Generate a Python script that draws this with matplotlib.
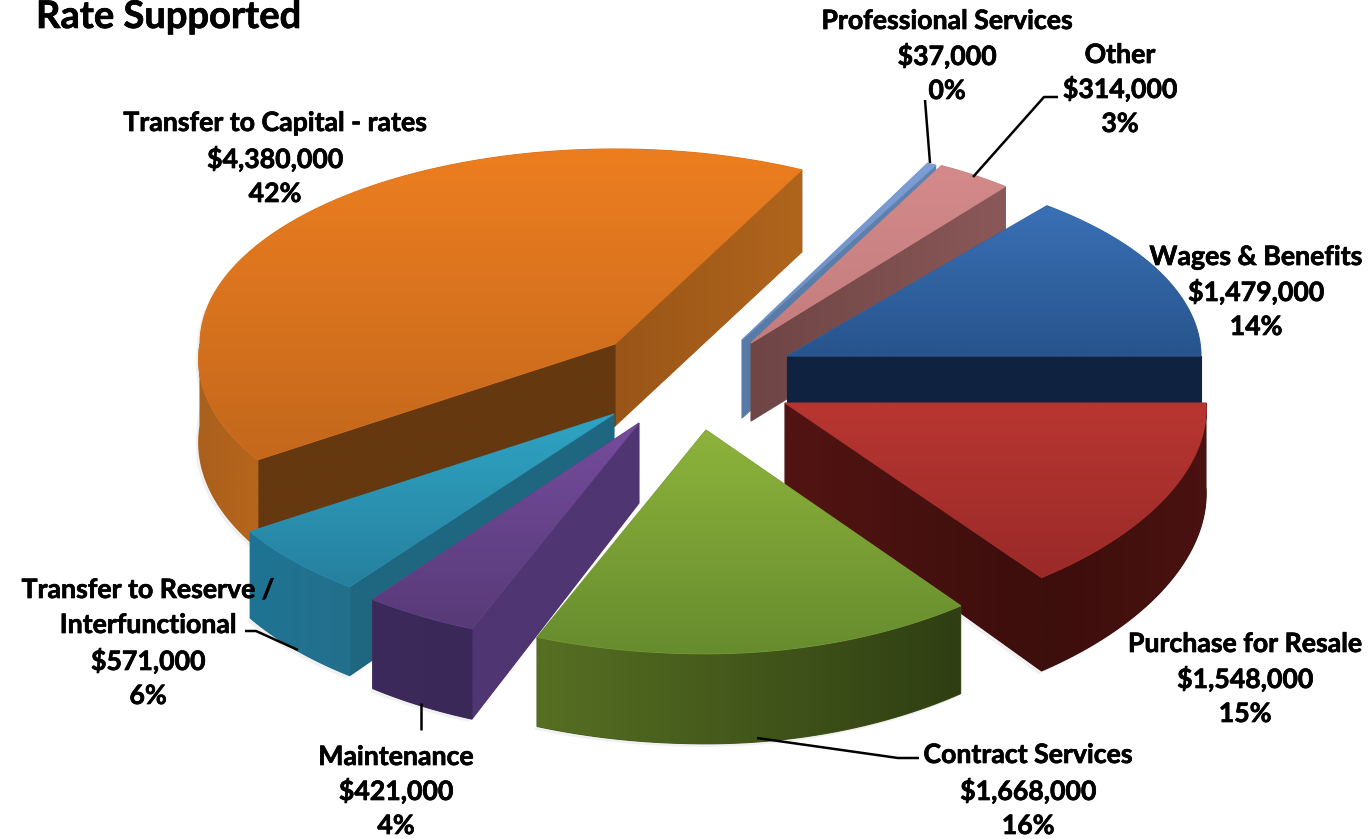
import numpy as np
import matplotlib
matplotlib.use("Agg")
import matplotlib.pyplot as plt
import matplotlib.patheffects as pe
from matplotlib.colors import to_rgb
from matplotlib.patches import Polygon

# counter-clockwise from 3 o'clock
names = ["Wages & Benefits", "Other", "Professional Services", "Transfer to Capital - rates",
         "Transfer to Reserve /\nInterfunctional", "Maintenance", "Contract Services", "Purchase for Resale"]
amounts = [1479000, 314000, 37000, 4380000, 571000, 421000, 1668000, 1548000]
percents = ["14%", "3%", "0%", "42%", "6%", "4%", "16%", "15%"]

# exploded slice geometry in pixels: apex x, apex y, rx, ry, perspective, depth
geom = [
    (787, 356, 414, 193, 0.00, 78),
    (751, 343, 405, 201, 0.00, 78),
    (742, 340, 412, 198, 0.00, 78),
    (615, 344, 415, 195, 0.08, 82),
    (614, 414, 416, 195, 0.11, 80),
    (639, 423, 410, 195, 0.14, 80),
    (706, 430, 418, 198, 0.13, 79),
    (785, 403, 421, 198, 0.12, 84),
]
# top start/end, start wall left/right, end wall, arc wall start/end
colours = [
    ("#3a70b6", "#27548c", "#0f2340", "#0f2340", "#0f2340", "#0f2340", "#0f2340"),
    ("#d48a8a", "#c47c7c", "#6f4545", "#8a5858", "#6f4545", "#855454", "#855454"),
    ("#7d9fd6", "#6a8cc0", "#587aa6", "#5f82ae", "#587aa6", "#587aa6", "#587aa6"),
    ("#ed7e20", "#c4681c", "#9a5518", "#b0651c", "#653810", "#a9601c", "#b8661c"),
    ("#2fa4c4", "#26809e", "#1f6780", "#1f6780", "#1f6780", "#1f7493", "#236f8c"),
    ("#754c9c", "#583a78", "#4b3370", "#4b3370", "#4f3572", "#3d2a5c", "#3a2858"),
    ("#8db33c", "#668c2e", "#2e3d12", "#2e3d12", "#2e3d12", "#566f22", "#2f3f13"),
    ("#b83632", "#9a2a28", "#521412", "#3c0e0c", "#3c0e0c", "#3c0e0c", "#4a1210"),
]
draw_order = [3, 2, 1, 0, 4, 5, 7, 6]

label_pos = [
    (1256, [257, 292, 327]),
    (1120, [55, 89, 124]),
    (947, [21, 56, 91]),
    (275, [123, 159, 194]),
    (148, [590, 625, 661, 696]),
    (396, [757, 791, 826]),
    (1028, [755, 791, 826]),
    (1245, [644, 679, 714]),
]
leaders = [
    ([925, 930], [100, 163]),
    ([1058, 1044, 973], [97, 97, 177]),
    ([919, 898, 757], [758, 758, 738]),
    ([421, 421], [703, 730]),
    ([245, 256, 298], [631, 631, 650]),
]

plt.rcParams["font.family"] = ["Lato", "DejaVu Sans"]
fig = plt.figure(figsize=(13.68, 8.39), dpi=100)
ax = fig.add_axes([0, 0, 1, 1])


def rim(theta, g, z=0.0):
    ax_, ay, rx, ry, k, depth = g
    u, v = np.cos(theta), np.sin(theta)
    low = np.maximum(0, -v)
    kx = np.where(u < 0, k, 0.03)
    x = ax_ + rx * u * (1 + kx * low)
    y = ay - ry * v * (1 + k * low) + z * depth * (1 + 0.14 * low)
    return np.column_stack([x, y])


def face(pts, c1, c2, vertical=True, zorder=2):
    c = np.linspace(to_rgb(c1), to_rgb(c2), 64)
    grad = c[:, None, :] if vertical else c[None, :, :]
    # solid layer first, it hides the light seam left by the clipped image
    ax.add_patch(Polygon(pts, facecolor=c[32], edgecolor=c[32], lw=0.8, zorder=zorder))
    x0, y0 = pts.min(axis=0)
    x1, y1 = pts.max(axis=0)
    im = ax.imshow(grad, extent=(x0, x1, y1, y0), aspect="auto", zorder=zorder + 0.5, interpolation="bilinear")
    im.set_clip_path(Polygon(pts, transform=ax.transData))


edges = np.deg2rad(np.concatenate([[0], np.cumsum(amounts) / np.sum(amounts) * 360]))
order_z = 2
for i in draw_order:
    g = geom[i]
    t0, t1 = edges[i], edges[i + 1]
    top_c1, top_c2, start_l, start_r, end_c, arc_c1, arc_c2 = colours[i]
    apex = np.array([[g[0], g[1]]], dtype=float)
    apex_low = apex + [0, g[5]]
    ts = np.linspace(t0, t1, 80)
    top = np.vstack([apex, rim(ts, g)])

    # soft shadow along the lower edge
    low_outline = np.vstack([top, apex_low, rim(ts, g, 1.0)])
    ax.add_patch(Polygon(low_outline + [-3, 3], facecolor="#888888", edgecolor="none", alpha=0.12, zorder=order_z))
    order_z += 1

    if np.cos(t0) > 0:
        e = np.vstack([rim(np.array([t0]), g), rim(np.array([t0]), g, 1.0)])
        face(np.vstack([apex, e, apex_low]), start_l, start_r, False, order_z)
        order_z += 1
    if np.cos(t1) < 0:
        e = np.vstack([rim(np.array([t1]), g), rim(np.array([t1]), g, 1.0)])
        face(np.vstack([apex, e, apex_low]), end_c, end_c, False, order_z)
        order_z += 1
    a0, a1 = max(t0, np.pi), min(t1, 2 * np.pi)
    if a1 > a0:
        ta = np.linspace(a0, a1, 60)
        pts = np.vstack([rim(ta, g), rim(ta[::-1], g, 1.0)])
        face(pts, arc_c1, arc_c2, False, order_z)
        order_z += 1
    face(top, top_c1, top_c2, True, order_z)
    order_z += 1

for xs, ys in leaders:
    ax.plot(xs, ys, color="black", lw=1.8, zorder=100, solid_capstyle="butt")

heavier = [pe.withStroke(linewidth=0.5, foreground="black")]
for name, amount, pct, (cx, ys) in zip(names, amounts, percents, label_pos):
    lines = name.split("\n") + [f"${amount:,}", pct]
    for line, y in zip(lines, ys):
        ax.text(cx, y, line, ha="center", va="center", fontsize=19.2, fontweight="bold",
                color="black", zorder=101, path_effects=heavier)

ax.text(36, 17, "Rate Supported", ha="left", va="center", fontsize=27.4, fontweight="bold",
        color="black", zorder=101, path_effects=heavier)

ax.set_xlim(0, 1368)
ax.set_ylim(839, 0)
ax.axis("off")
fig.savefig("out.png", dpi=100, facecolor="white")
